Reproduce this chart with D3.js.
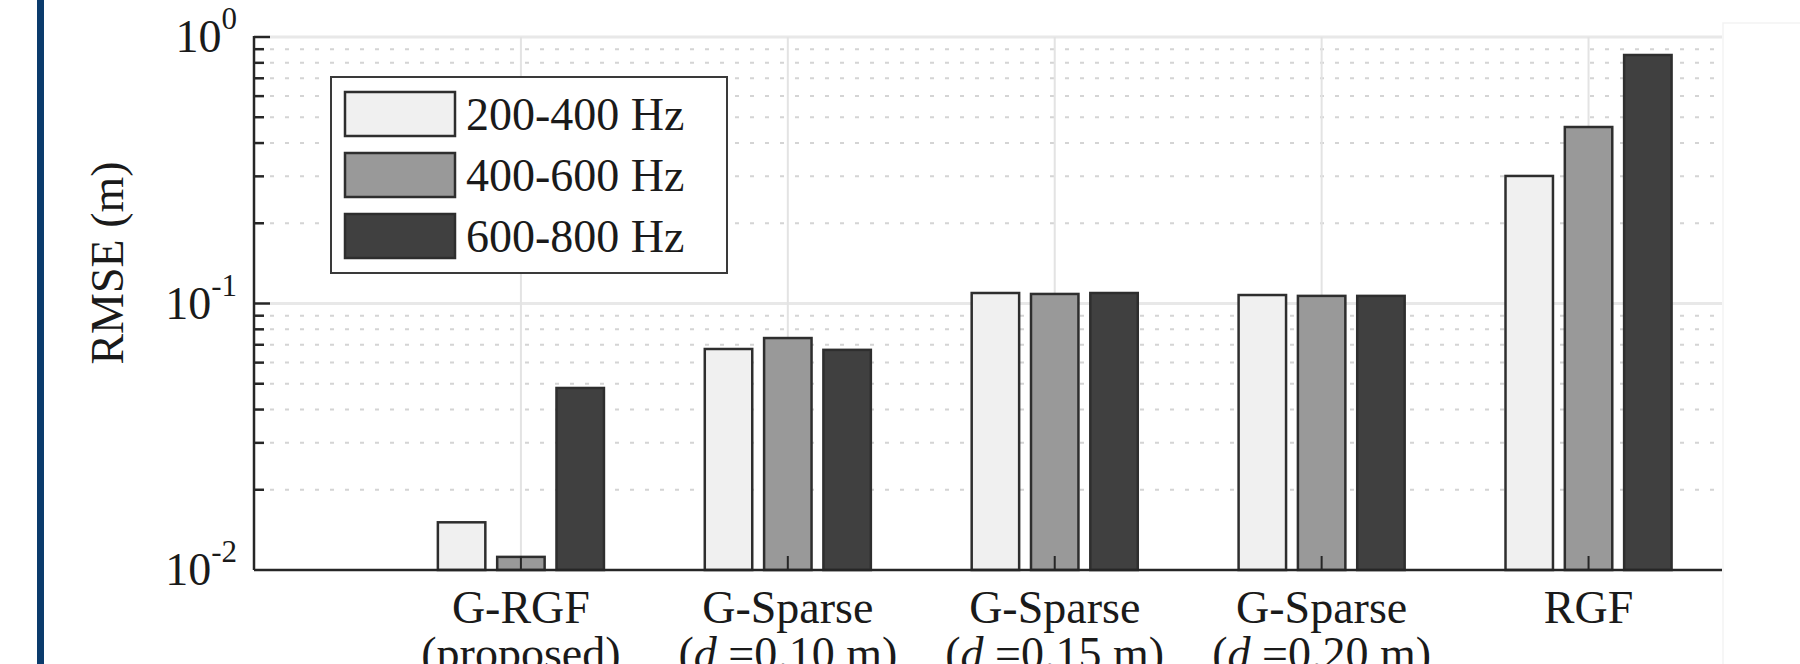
<!DOCTYPE html>
<html>
<head>
<meta charset="utf-8">
<script src="https://cdn.jsdelivr.net/npm/d3@7"></script>
<style>
  html, body { margin: 0; padding: 0; background: #fff; }
  svg { display: block; }
</style>
</head>
<body>
<svg id="chart"></svg>
<script>
// data
const groupLine1 = ["G-RGF", "G-Sparse", "G-Sparse", "G-Sparse", "RGF"];
const groupLine2 = ["(proposed)", "=0.10 m)", "=0.15 m)", "=0.20 m)", ""];
const bands = ["200-400 Hz", "400-600 Hz", "600-800 Hz"];
const rmse200 = [0.0151, 0.0675, 0.1095, 0.1076, 0.301];
const rmse400 = [0.0112, 0.0742, 0.1086, 0.1068, 0.4595];
const rmse600 = [0.0482, 0.0670, 0.1095, 0.1068, 0.856];
const yTickExp = ["0", "-1", "-2"];

const W = 1800, H = 664;
const font = "'Liberation Serif', 'Times New Roman', serif";
const fills = ["#f0f0f0", "#999999", "#404040"];

const svg = d3.select("#chart").attr("width", W).attr("height", H)
  .style("font-family", font);

// left blue border strip
svg.append("rect").attr("x", 37).attr("y", 0).attr("width", 7).attr("height", H).attr("fill", "#0b3b6c");

// faint frame on the right
svg.append("path").attr("d", "M1723,664V23H1800").attr("fill", "none").attr("stroke", "#f3f3f3").attr("stroke-width", 1.5);

const x = d3.scaleLinear().domain([0, 5.5]).range([254, 1722]);
const y = d3.scaleLog().domain([0.01, 1]).range([570, 37]);

const series = [rmse200, rmse400, rmse600];
const offs = [-0.2222, 0, 0.2222];
const bw = 0.1778;

const grid = svg.append("g");
// minor grid
const minors = [];
[0.01, 0.1].forEach(b => { for (let k = 2; k <= 9; k++) minors.push(b * k); });
grid.selectAll(".minor").data(minors).join("line")
  .attr("x1", x(0) + 16).attr("x2", x(5.5))
  .attr("y1", d => y(d)).attr("y2", d => y(d))
  .attr("stroke", "#d4d4d4").attr("stroke-width", 2)
  .attr("stroke-dasharray", "4,11");
// major grid
grid.selectAll(".major").data([0.1, 1]).join("line")
  .attr("x1", x(0) + 16).attr("x2", x(5.5))
  .attr("y1", d => y(d)).attr("y2", d => y(d))
  .attr("stroke", "#e8e8e8").attr("stroke-width", 3);
// vertical grid
grid.selectAll(".vg").data(d3.range(1, 6)).join("line")
  .attr("x1", d => x(d)).attr("x2", d => x(d))
  .attr("y1", y(1)).attr("y2", y(0.01))
  .attr("stroke", "#e3e3e3").attr("stroke-width", 2);

// bars
series.forEach((vals, s) => {
  svg.append("g").selectAll("rect").data(vals).join("rect")
    .attr("x", (d, i) => x(i + 1 + offs[s] - bw / 2))
    .attr("width", x(bw) - x(0))
    .attr("y", d => y(d))
    .attr("height", d => y(0.01) - y(d))
    .attr("fill", fills[s])
    .attr("stroke", "#2e2e2e")
    .attr("stroke-width", 2.5);
});

// axes
const ax = svg.append("g").attr("stroke", "#262626");
ax.append("line").attr("x1", x(0)).attr("x2", x(0)).attr("y1", y(1) - 1).attr("y2", y(0.01))
  .attr("stroke-width", 2.5);
ax.append("line").attr("x1", x(0)).attr("x2", x(5.5)).attr("y1", y(0.01)).attr("y2", y(0.01))
  .attr("stroke-width", 2.5);
ax.selectAll(".mt").data(minors).join("line")
  .attr("x1", x(0)).attr("x2", x(0) + 10)
  .attr("y1", d => y(d)).attr("y2", d => y(d)).attr("stroke-width", 2.5);
ax.selectAll(".Mt").data([0.1, 1]).join("line")
  .attr("x1", x(0)).attr("x2", x(0) + 16)
  .attr("y1", d => y(d)).attr("y2", d => y(d)).attr("stroke-width", 2.5);
ax.selectAll(".xt").data(d3.range(1, 6)).join("line")
  .attr("x1", d => x(d)).attr("x2", d => x(d))
  .attr("y1", y(0.01)).attr("y2", y(0.01) - 14).attr("stroke-width", 2);

// y tick labels
const ylab = svg.append("g").attr("fill", "#1a1a1a").attr("font-size", 46);
[1, 0.1, 0.01].forEach((v, i) => {
  const t = ylab.append("text").attr("x", 237).attr("y", y(v) + 15).attr("text-anchor", "end");
  t.append("tspan").text("10");
  t.append("tspan").attr("font-size", 31).attr("dy", -23).text(yTickExp[i]);
});

// y axis title
svg.append("text").attr("transform", "translate(123,263) rotate(-90)")
  .attr("text-anchor", "middle").attr("font-size", 46).attr("fill", "#1a1a1a")
  .text("RMSE (m)");

// x labels
const xl = svg.append("g").attr("fill", "#1a1a1a").attr("font-size", 46).attr("text-anchor", "middle");
groupLine1.forEach((l1, i) => {
  xl.append("text").attr("x", x(i + 1)).attr("y", 623).text(l1);
  if (groupLine2[i]) {
    const t = xl.append("text").attr("x", x(i + 1)).attr("y", 669);
    if (i === 0) {
      t.text(groupLine2[i]);
    } else {
      t.append("tspan").text("(");
      t.append("tspan").attr("font-style", "italic").text("d");
      t.append("tspan").text(" " + groupLine2[i]);
    }
  }
});

// legend
const lg = svg.append("g");
lg.append("rect").attr("x", 331).attr("y", 77).attr("width", 396).attr("height", 196)
  .attr("fill", "#fff").attr("stroke", "#3a3a3a").attr("stroke-width", 2);
bands.forEach((b, i) => {
  const cy = 114 + i * 61;
  lg.append("rect").attr("x", 345).attr("y", cy - 22).attr("width", 110).attr("height", 44)
    .attr("fill", fills[i]).attr("stroke", "#2e2e2e").attr("stroke-width", 2.5);
  lg.append("text").attr("x", 466).attr("y", cy + 16).attr("font-size", 46)
    .attr("fill", "#1a1a1a").text(b);
});
</script>
</body>
</html>
